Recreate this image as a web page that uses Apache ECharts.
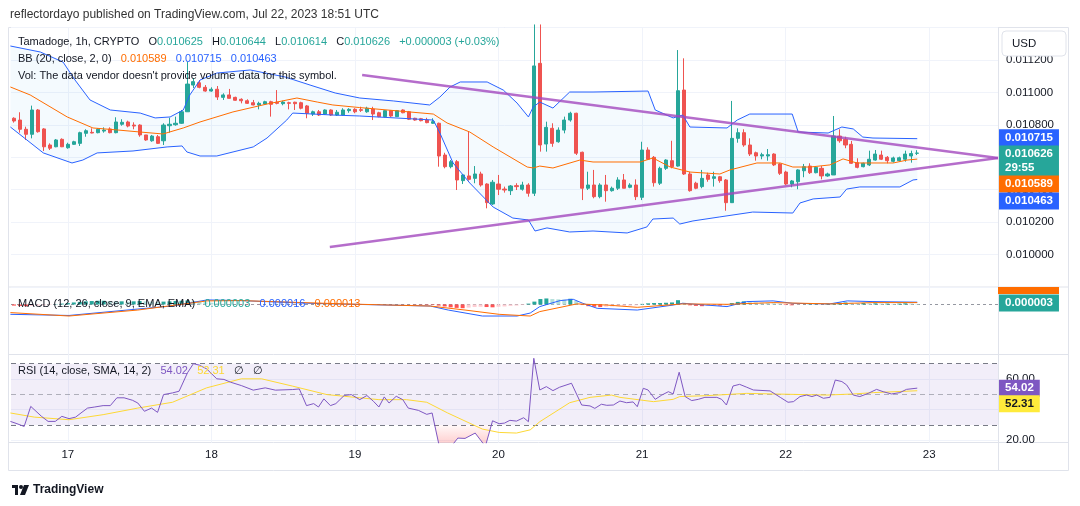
<!DOCTYPE html>
<html>
<head>
<meta charset="utf-8">
<title>Tamadoge, 1h</title>
<script src="https://cdn.jsdelivr.net/npm/echarts@6/dist/echarts.min.js"></script>
<style>
html, body { margin: 0; padding: 0; background: #fff; }
#chart { width: 1080px; height: 506px; }
</style>
</head>
<body>
<div id="chart"></div>
<script>
// hours are counted from Jul 17 00:00, one candle per hour
var FIRST_HOUR = -9;
var X_MIN = -9.5, X_MAX = 155.5;
var dayHours = [0, 24, 48, 72, 96, 120, 144];
var dayLabels = ['17', '18', '19', '20', '21', '22', '23'];

// [open, close, low, high]
var candles = [
  [0.010841, 0.010824, 0.010814, 0.010847], [0.010830, 0.010773, 0.010752, 0.010878], [0.010773, 0.010742, 0.010707, 0.010789], [0.010742, 0.010892, 0.010717, 0.010919],
  [0.010892, 0.010758, 0.010752, 0.010898], [0.010775, 0.010665, 0.010639, 0.010780], [0.010676, 0.010656, 0.010645, 0.010686], [0.010665, 0.010707, 0.010662, 0.010713],
  [0.010711, 0.010665, 0.010663, 0.010717], [0.010659, 0.010680, 0.010653, 0.010690], [0.010680, 0.010696, 0.010676, 0.010702], [0.010686, 0.010752, 0.010670, 0.010758],
  [0.010748, 0.010764, 0.010727, 0.010773], [0.010754, 0.010750, 0.010748, 0.010779], [0.010752, 0.010773, 0.010748, 0.010779], [0.010762, 0.010768, 0.010752, 0.010785],
  [0.010775, 0.010752, 0.010748, 0.010785], [0.010752, 0.010818, 0.010748, 0.010847], [0.010804, 0.010816, 0.010795, 0.010835], [0.010818, 0.010793, 0.010785, 0.010826],
  [0.010799, 0.010793, 0.010773, 0.010816], [0.010799, 0.010738, 0.010727, 0.010804], [0.010738, 0.010707, 0.010702, 0.010738], [0.010702, 0.010731, 0.010696, 0.010738],
  [0.010727, 0.010686, 0.010682, 0.010738], [0.010702, 0.010799, 0.010676, 0.010810], [0.010795, 0.010804, 0.010752, 0.010844], [0.010801, 0.010810, 0.010795, 0.010851],
  [0.010810, 0.010881, 0.010806, 0.010892], [0.010881, 0.011052, 0.010880, 0.011188], [0.011046, 0.011067, 0.011028, 0.011089], [0.011060, 0.011032, 0.011026, 0.011077],
  [0.011032, 0.011009, 0.011005, 0.011046], [0.011009, 0.011020, 0.011005, 0.011032], [0.011020, 0.010972, 0.010954, 0.011040], [0.010970, 0.010985, 0.010954, 0.010995],
  [0.010985, 0.010964, 0.010963, 0.011022], [0.010970, 0.010952, 0.010949, 0.010974], [0.010958, 0.010949, 0.010933, 0.010964], [0.010949, 0.010933, 0.010929, 0.010958],
  [0.010937, 0.010923, 0.010921, 0.010954], [0.010923, 0.010933, 0.010896, 0.010943], [0.010929, 0.010943, 0.010923, 0.010949], [0.010943, 0.010927, 0.010851, 0.010949],
  [0.010940, 0.010933, 0.010927, 0.011015], [0.010931, 0.010941, 0.010921, 0.010949], [0.010937, 0.010933, 0.010896, 0.010943], [0.010940, 0.010931, 0.010892, 0.010943],
  [0.010937, 0.010903, 0.010896, 0.010943], [0.010917, 0.010872, 0.010841, 0.010923], [0.010867, 0.010881, 0.010855, 0.010888], [0.010881, 0.010861, 0.010855, 0.010892],
  [0.010867, 0.010892, 0.010861, 0.010896], [0.010892, 0.010861, 0.010855, 0.010896], [0.010861, 0.010878, 0.010855, 0.010892], [0.010861, 0.010892, 0.010857, 0.010903],
  [0.010888, 0.010896, 0.010875, 0.010903], [0.010896, 0.010881, 0.010872, 0.010903], [0.010894, 0.010890, 0.010880, 0.010912], [0.010881, 0.010903, 0.010875, 0.010912],
  [0.010898, 0.010867, 0.010830, 0.010912], [0.010875, 0.010851, 0.010847, 0.010881], [0.010851, 0.010888, 0.010847, 0.010892], [0.010888, 0.010855, 0.010849, 0.010892],
  [0.010851, 0.010888, 0.010849, 0.010892], [0.010892, 0.010875, 0.010872, 0.010896], [0.010881, 0.010835, 0.010830, 0.010886], [0.010841, 0.010830, 0.010826, 0.010844],
  [0.010838, 0.010826, 0.010822, 0.010843], [0.010830, 0.010814, 0.010810, 0.010844], [0.010810, 0.010820, 0.010806, 0.010841], [0.010810, 0.010608, 0.010542, 0.010814],
  [0.010614, 0.010542, 0.010532, 0.010628], [0.010542, 0.010573, 0.010532, 0.010583], [0.010573, 0.010460, 0.010398, 0.010583], [0.010456, 0.010491, 0.010435, 0.010497],
  [0.010485, 0.010464, 0.010456, 0.010758], [0.010470, 0.010497, 0.010440, 0.010546], [0.010497, 0.010429, 0.010419, 0.010511], [0.010435, 0.010320, 0.010285, 0.010440],
  [0.010312, 0.010446, 0.010306, 0.010460], [0.010435, 0.010403, 0.010367, 0.010491], [0.010404, 0.010398, 0.010382, 0.010419], [0.010394, 0.010423, 0.010367, 0.010429],
  [0.010425, 0.010419, 0.010398, 0.010440], [0.010403, 0.010429, 0.010394, 0.010449], [0.010429, 0.010378, 0.010357, 0.010440], [0.010378, 0.011164, 0.010361, 0.011420],
  [0.011180, 0.010676, 0.010635, 0.011420], [0.010682, 0.010785, 0.010635, 0.010820], [0.010779, 0.010686, 0.010665, 0.010810], [0.010696, 0.010768, 0.010690, 0.010785],
  [0.010768, 0.010830, 0.010748, 0.010851], [0.010830, 0.010872, 0.010820, 0.010881], [0.010872, 0.010625, 0.010614, 0.010875], [0.010631, 0.010409, 0.010336, 0.010635],
  [0.010409, 0.010429, 0.010398, 0.010511], [0.010429, 0.010357, 0.010347, 0.010522], [0.010357, 0.010429, 0.010347, 0.010440], [0.010429, 0.010394, 0.010326, 0.010491],
  [0.010394, 0.010409, 0.010388, 0.010419], [0.010409, 0.010460, 0.010398, 0.010477], [0.010460, 0.010409, 0.010409, 0.010497], [0.010415, 0.010429, 0.010409, 0.010440],
  [0.010429, 0.010357, 0.010336, 0.010464], [0.010353, 0.010645, 0.010336, 0.010696], [0.010645, 0.010588, 0.010583, 0.010662], [0.010600, 0.010443, 0.010419, 0.010608],
  [0.010440, 0.010532, 0.010429, 0.010542], [0.010532, 0.010583, 0.010522, 0.010588], [0.010579, 0.010542, 0.010532, 0.010702], [0.010546, 0.011011, 0.010542, 0.011262],
  [0.011015, 0.010497, 0.010491, 0.011211], [0.010497, 0.010394, 0.010388, 0.010511], [0.010440, 0.010409, 0.010403, 0.010449], [0.010419, 0.010470, 0.010409, 0.010522],
  [0.010491, 0.010464, 0.010449, 0.010505], [0.010470, 0.010480, 0.010419, 0.010511], [0.010480, 0.010456, 0.010443, 0.010485], [0.010460, 0.010320, 0.010270, 0.010466],
  [0.010320, 0.010717, 0.010318, 0.010948], [0.010717, 0.010752, 0.010690, 0.010779], [0.010752, 0.010676, 0.010665, 0.010773], [0.010676, 0.010620, 0.010608, 0.010717],
  [0.010628, 0.010608, 0.010579, 0.010635], [0.010608, 0.010616, 0.010588, 0.010628], [0.010608, 0.010616, 0.010579, 0.010651], [0.010620, 0.010553, 0.010546, 0.010625],
  [0.010559, 0.010501, 0.010491, 0.010563], [0.010509, 0.010435, 0.010429, 0.010517], [0.010435, 0.010454, 0.010415, 0.010460], [0.010449, 0.010522, 0.010403, 0.010526],
  [0.010517, 0.010542, 0.010477, 0.010559], [0.010546, 0.010505, 0.010497, 0.010563], [0.010505, 0.010538, 0.010501, 0.010546], [0.010532, 0.010485, 0.010464, 0.010546],
  [0.010485, 0.010497, 0.010480, 0.010505], [0.010491, 0.010731, 0.010491, 0.010855], [0.010731, 0.010702, 0.010690, 0.010773], [0.010711, 0.010676, 0.010656, 0.010727],
  [0.010680, 0.010563, 0.010559, 0.010701], [0.010567, 0.010538, 0.010532, 0.010594], [0.010542, 0.010563, 0.010538, 0.010567], [0.010553, 0.010588, 0.010546, 0.010641],
  [0.010583, 0.010620, 0.010579, 0.010645], [0.010614, 0.010588, 0.010583, 0.010641], [0.010600, 0.010579, 0.010563, 0.010608], [0.010575, 0.010596, 0.010567, 0.010604],
  [0.010579, 0.010597, 0.010573, 0.010604], [0.010588, 0.010620, 0.010573, 0.010641], [0.010608, 0.010623, 0.010567, 0.010641], [0.010625, 0.010626, 0.010614, 0.010644]
];

// Bollinger Bands (20, close, 2): [hour, price]
var bbUpper = [
  [-9.6, 0.011287], [-4.6, 0.011250], [-0.8, 0.011188], [1.2, 0.011077], [3.7, 0.010954], [7.1, 0.010892], [12.1, 0.010873], [14.6, 0.010843],
  [17.1, 0.010849], [19.3, 0.010892], [20.4, 0.010985], [22.1, 0.011077], [24.9, 0.011120], [30.5, 0.011139], [36.3, 0.011096], [40.5, 0.011046],
  [44.7, 0.010997], [48.8, 0.010966], [54.4, 0.010948], [60.5, 0.010923], [62.2, 0.010972], [63.9, 0.011034], [65.6, 0.011065], [70.1, 0.011065],
  [72.8, 0.011015], [75.1, 0.010935], [77.0, 0.010849], [77.8, 0.010911], [78.9, 0.010941], [81.1, 0.010904], [83.9, 0.011003], [87.8, 0.011003],
  [97.0, 0.011009], [98.2, 0.010892], [101.2, 0.010843], [102.8, 0.010861], [104.0, 0.010787], [110.2, 0.010781], [111.9, 0.010830], [114.0, 0.010867],
  [121.1, 0.010867], [122.1, 0.010756], [127.1, 0.010750], [129.4, 0.010787], [131.3, 0.010775], [132.9, 0.010725], [134.6, 0.010719], [142, 0.010715]
];
var bbBasis = [
  [-9.6, 0.011034], [-6.3, 0.010985], [-0.1, 0.010849], [4.2, 0.010781], [8.2, 0.010769], [12.1, 0.010756], [15.9, 0.010744], [19.3, 0.010781],
  [22.1, 0.010818], [27.6, 0.010880], [33.3, 0.010929], [38.3, 0.010966], [41.7, 0.010941], [44.3, 0.010923], [48.8, 0.010907], [61.1, 0.010867],
  [63.4, 0.010812], [67.2, 0.010756], [71.1, 0.010664], [76.8, 0.010540], [77.8, 0.010534], [78.9, 0.010546], [81.1, 0.010534], [85.6, 0.010583],
  [87.8, 0.010571], [95.7, 0.010571], [97.8, 0.010596], [100.7, 0.010540], [104.0, 0.010509], [109.0, 0.010497], [110.7, 0.010522], [115.2, 0.010565],
  [119.1, 0.010565], [121.2, 0.010540], [124.1, 0.010540], [127.4, 0.010553], [129.6, 0.010590], [131.9, 0.010565], [138.0, 0.010565], [140.3, 0.010583],
  [142, 0.010589]
];
var bbLower = [
  [-9.6, 0.010787], [-4.1, 0.010627], [0.7, 0.010565], [2.5, 0.010583], [4.9, 0.010627], [10.9, 0.010639], [16.6, 0.010664], [19.1, 0.010670],
  [19.9, 0.010633], [22.1, 0.010608], [24.9, 0.010608], [31.0, 0.010664], [33.3, 0.010719], [36.6, 0.010830], [37.6, 0.010873], [41.0, 0.010867],
  [44.3, 0.010861], [48.8, 0.010855], [61.1, 0.010830], [62.2, 0.010750], [64.4, 0.010565], [67.2, 0.010441], [71.1, 0.010293], [74.4, 0.010225],
  [77.0, 0.010213], [78.1, 0.010145], [80.1, 0.010164], [83.9, 0.010139], [87.8, 0.010145], [93.5, 0.010133], [96.8, 0.010170], [97.8, 0.010219],
  [101.2, 0.010225], [102.3, 0.010188], [104.5, 0.010207], [109.0, 0.010232], [114.5, 0.010262], [121.2, 0.010256], [122.4, 0.010318], [124.6, 0.010343],
  [129.1, 0.010355], [130.2, 0.010404], [132.4, 0.010417], [139.1, 0.010417], [141.3, 0.010460], [142, 0.010463]
];

// drawn triangle
var trendUpper = [[49.2, 0.011108], [155.5, 0.010596]];
var trendLower = [[43.8, 0.010046], [155.5, 0.010596]];

// last values shown in the price scale
var lastClose = 0.010626, barCountdown = '29:55';
var bbBasisLast = 0.010589, bbUpperLast = 0.010715, bbLowerLast = 0.010463;

// MACD (12, 26, 9)
var macdHist = [
  -8e-6, -10e-6, -12e-6, -10e-6, -8e-6, -6e-6, -3e-6, 2e-6, 6e-6,
  10e-6, 14e-6, 18e-6, 22e-6, 24e-6, 26e-6, 26e-6, 24e-6, 22e-6,
  22e-6, 20e-6, 22e-6, 24e-6, 22e-6, 20e-6, 18e-6, 20e-6, 22e-6, 24e-6, 26e-6, 28e-6, 24e-6, 20e-6, 16e-6,
  12e-6, 8e-6, 4e-6, 2e-6, 0, -2e-6, -2e-6,
  -1e-6, -1e-6, 0, 1e-6, 1e-6, 0, 0, -1e-6, -1e-6, 0, 0, 1e-6, 1e-6, 0, 0, -1e-6,
  -1e-6, -1e-6, 0, 0, 0, 1e-6, 1e-6, 0, 0, -1e-6, -1e-6, -2e-6, -2e-6, -3e-6, -3e-6,
  -8e-6, -14e-6, -20e-6, -24e-6, -26e-6, -22e-6, -18e-6, -16e-6, -18e-6, -20e-6, -16e-6, -14e-6, -10e-6, -8e-6, -4e-6,
  6e-6, 20e-6, 38e-6, 42e-6, 38e-6, 36e-6, 34e-6, 40e-6, 24e-6,
  -4e-6, -12e-6, -16e-6, -18e-6, -16e-6, -14e-6, -12e-6, -10e-6, -8e-6, -6e-6,
  4e-6, 8e-6, 10e-6, 10e-6, 12e-6, 14e-6, 30e-6, 12e-6,
  -6e-6, -10e-6, -12e-6, -10e-6, -8e-6, -8e-6, -6e-6,
  10e-6, 18e-6, 22e-6, 16e-6, 14e-6, 12e-6, 10e-6, 8e-6, 6e-6,
  -4e-6, -6e-6, -2e-6, 0, 2e-6, 2e-6, 0,
  6e-6, 8e-6, 12e-6, 14e-6, 12e-6, 10e-6, 10e-6, 8e-6, 8e-6, 6e-6, 6e-6, 4e-6, 6e-6, 8e-6, 6e-6, 3e-6
];
var macdLine = [
  [-9.6, -69e-6], [0.2, -77e-6], [11.7, -32e-6], [17.4, -11e-6], [23.3, 32e-6], [29, 27e-6], [40.5, 8e-6], [60.6, -11e-6],
  [63.6, -39e-6], [69.3, -81e-6], [75.1, -81e-6], [77.3, -60e-6], [78.9, -15e-6], [82.3, 27e-6], [84.5, 36e-6], [86.1, 8e-6],
  [88.5, -27e-6], [95.2, -39e-6], [101.2, -4e-6], [102.8, 8e-6], [110.2, -15e-6], [113.5, 20e-6], [117.9, 25e-6], [121.2, 8e-6],
  [127.4, 4e-6], [130.3, 25e-6], [134.6, 20e-6], [142, 16e-6]
];
var macdSignal = [
  [-9.6, -57e-6], [0.2, -81e-6], [11.7, -39e-6], [23.3, 25e-6], [29, 27e-6], [46.2, 4e-6], [60.6, -11e-6], [66.4, -39e-6],
  [72.1, -69e-6], [77.3, -81e-6], [78.9, -50e-6], [85.1, 4e-6], [90.1, -4e-6], [95.2, -20e-6], [102.8, 4e-6], [110.2, 1e-6],
  [117.9, 13e-6], [127.4, 4e-6], [134.6, 13e-6], [142, 13e-6]
];
var macdLegend = ['0.000003', '0.000016', '0.000013'];

// RSI (14) and its SMA (14)
var rsiLine = [
  [-9.6, 32.3], [-8.5, 30.8], [-7.3, 29.0], [-6.2, 42.1], [-4.4, 35.6], [-3.3, 32.3], [-2.1, 32.3], [-1, 35.6], [0.2, 34.1], [1.3, 35.1],
  [2.2, 37.8], [3.3, 41.0], [4.5, 41.7], [5.9, 42.6], [7.1, 42.6], [8.2, 47.7], [9.4, 47.7], [10.8, 46.1], [11.7, 44.3], [12.8, 38.9],
  [14.0, 41.0], [15.0, 38.2], [16.0, 49.8], [17.5, 50.9], [18.6, 52.0], [20, 64], [21, 70], [22, 69], [23.2, 66.6], [24.9, 60.1],
  [26.1, 59.7], [27.2, 57.9], [29, 55.7], [31, 52.7], [33, 54.2], [34.7, 52.7], [37.6, 53.1], [38.7, 53.5], [39.9, 42.6], [41.1, 43.9],
  [41.9, 41.7], [42.8, 47.0], [43.9, 42.6], [44.8, 43.9], [46.2, 49.2], [47.4, 49.8], [48.8, 46.5], [50, 49.2], [51.1, 45.4], [52, 41.7],
  [52.9, 48.3], [53.7, 44.3], [54.9, 48.7], [56, 46.5], [56.9, 41.0], [58.6, 39.5], [60, 36.9], [60.9, 37.8], [62.1, 16], [64.1, 16],
  [65.2, 21.4], [66.4, 21.2], [68.1, 24.7], [69.8, 16], [71, 32.7], [72.1, 30.8], [73, 31.2], [73.9, 33.0], [75, 32.5], [76.2, 34.7],
  [77, 32.1], [77.9, 73.5], [78.9, 52.8], [80, 55.0], [81.1, 52.4], [82.2, 54.6], [84.2, 57.2], [85.9, 43.0], [87.3, 42.4], [88.1, 40.8],
  [89.2, 43.5], [90.1, 42.8], [91.2, 43.0], [92.3, 45.6], [93.4, 44.5], [94.5, 45.0], [95.2, 41.9], [96.2, 53.9], [97, 52.8], [98.2, 46.7],
  [99.3, 49.5], [100.4, 51.7], [101.2, 50.2], [102.2, 64.4], [103.2, 48.5], [104.3, 45.9], [105.4, 46.7], [106.5, 48.0], [108.5, 48.0], [109.3, 46.7],
  [110.1, 43.0], [111.2, 55.4], [112.3, 56.5], [113.5, 54.6], [114.6, 52.8], [117.4, 52.2], [119.1, 48.0], [120.4, 44.8], [121.3, 45.2], [122.4, 48.5],
  [123.5, 49.5], [124.4, 48.5], [125.2, 49.5], [126.3, 47.4], [127.4, 48.0], [128.3, 59.3], [129.4, 58.3], [130.2, 56.1], [131.3, 49.5], [132.4, 48.5],
  [133.8, 50.6], [135.2, 53.2], [136.3, 51.7], [137.7, 50.2], [139.1, 51.1], [140.2, 53.2], [142, 54.02]
];
var rsiOversold = [[61.3, 30], [62.1, 16], [64.1, 16], [65.2, 21.4], [66.4, 21.2], [68.1, 24.7], [69.8, 16], [70.8, 30]];
var rsiMa = [
  [-9.6, 37.8], [-5.6, 35.1], [0.2, 33.4], [5.9, 36.7], [11.7, 41.0], [17.5, 44.8], [23.2, 54.2], [29, 60.1], [32.4, 60.1], [37.6, 55.3],
  [43.3, 49.8], [52, 46.5], [56.6, 46.5], [60, 44.8], [63.5, 37.8], [69.3, 27.3], [72.1, 25.1], [75, 24.7], [77.3, 26.8], [78.9, 32.1],
  [83.9, 44.5], [87.3, 48.0], [90.9, 49.5], [92.3, 48.0], [97.9, 45.2], [101.2, 46.7], [102.3, 48.5], [106.8, 49.1], [113.5, 50.6], [117.9, 50.2],
  [126.9, 49.5], [131.3, 50.2], [134.7, 51.1], [142, 52.31]
];
var rsiLevels = [70, 50, 30];
var rsiGrid = [60, 40, 20];

var FONT = "'Liberation Sans', Arial, sans-serif";
var TEXT = '#131722';
var UP = '#26A69A', DOWN = '#EF5350';
var GRID_LINE = '#F0F3FA', BORDER = '#E0E3EB';

var candleData = candles.map(function (c, i) { return [FIRST_HOUR + i, c[0], c[1], c[2], c[3]]; });
var histData = macdHist.map(function (v, i) { return [FIRST_HOUR + i, v]; });

function dayLines(withLabels) {
  return dayHours.map(function (h, i) {
    return {
      xAxis: h,
      lineStyle: { color: GRID_LINE, width: 1, type: 'solid' },
      label: { show: withLabels, position: 'start', distance: 6, formatter: dayLabels[i], color: TEXT, fontSize: 11.5, fontFamily: FONT }
    };
  });
}

function lineSeries(data, color, axis, width, z) {
  return {
    type: 'line', xAxisIndex: axis, yAxisIndex: axis, data: data,
    symbol: 'none', showSymbol: false, silent: true, z: z,
    lineStyle: { color: color, width: width }
  };
}

function tag(value, text, bg, dy, fg) {
  return {
    yAxis: value,
    label: { formatter: text, backgroundColor: bg, offset: [0, dy], color: fg || '#ffffff' }
  };
}

var tagLabel = {
  show: true, position: 'end', distance: 1, fontSize: 11.5, fontWeight: 'bold', fontFamily: FONT,
  padding: [2, 6, 1, 6], lineHeight: 14
};

function tagLine(items) {
  return {
    silent: true, symbol: ['none', 'none'], z: 10, animation: false, precision: 10,
    lineStyle: { color: 'rgba(0,0,0,0)', width: 1 }, label: tagLabel, data: items
  };
}

var chart = echarts.init(document.getElementById('chart'));

// price scale tags ride on the basis line
var basisSeries = lineSeries(bbBasis, '#FF6D00', 0, 1, 4);
basisSeries.markLine = tagLine([
  tag(bbUpperLast, bbUpperLast.toFixed(6), '#2962FF', -1),
  tag(lastClose, lastClose.toFixed(6) + '\n' + barCountdown, UP, 8),
  tag(bbBasisLast, bbBasisLast.toFixed(6), '#FF6D00', 25),
  tag(bbLowerLast, bbLowerLast.toFixed(6), '#2962FF', 21.5)
]);

var macdSeries = lineSeries(macdLine, '#2962FF', 1, 1, 3);
macdSeries.markLine = tagLine([tag(3e-6, macdLegend[0], UP, -1)]);

var rsiMaSeries = lineSeries(rsiMa, '#FDD835', 2, 1, 3);
rsiMaSeries.markLine = {
  silent: true, symbol: ['none', 'none'], z: 2, animation: false, label: { show: false },
  data: rsiLevels.map(function (v) {
    return { yAxis: v, lineStyle: { color: v === 50 ? 'rgba(120,123,134,0.55)' : '#787B86', width: 1, type: [5, 4] } };
  })
};

var rsiSeries = lineSeries(rsiLine, '#7E57C2', 2, 1, 4);
rsiSeries.markLine = tagLine([tag(54.02, '54.02', '#7E57C2', 0), tag(52.31, '52.31', '#FFEB3B', 13, TEXT)]);

var option = {
  animation: false,
  backgroundColor: '#ffffff',
  textStyle: { fontFamily: FONT },
  grid: [
    { left: 11, right: 82, top: 27.7, height: 259.2, show: false },
    { left: 11, right: 82, top: 286.9, height: 67.4, show: false },
    { left: 11, right: 82, top: 354.3, height: 88.4, show: false }
  ],
  xAxis: [0, 1, 2].map(function (g) {
    return { type: 'value', gridIndex: g, min: X_MIN, max: X_MAX, show: false };
  }),
  yAxis: [
    {
      gridIndex: 0, type: 'value', position: 'right', min: 0.0098, max: 0.0114, interval: 0.0002,
      axisLine: { show: false }, axisTick: { show: false },
      axisLabel: {
        margin: 8, color: TEXT, fontSize: 11.5, fontFamily: FONT, showMinLabel: false, showMaxLabel: false,
        formatter: function (v) { return v.toFixed(6); }
      },
      splitLine: { lineStyle: { color: GRID_LINE, width: 1 } }
    },
    { gridIndex: 1, type: 'value', min: -0.000349, max: 0.000123, show: false },
    { gridIndex: 2, type: 'value', min: 18.4, max: 76.1, show: false }
  ],
  series: [
    {
      type: 'custom', name: 'BB fill', xAxisIndex: 0, yAxisIndex: 0, z: 1, silent: true,
      data: [[0, 0.0105]],
      renderItem: function (params, api) {
        var pts = bbUpper.map(function (d) { return api.coord(d); });
        for (var i = bbLower.length - 1; i >= 0; i--) pts.push(api.coord(bbLower[i]));
        return { type: 'polygon', shape: { points: pts }, style: { fill: 'rgba(33,150,243,0.05)' } };
      },
      markLine: { silent: true, symbol: ['none', 'none'], z: 0, animation: false, data: dayLines(false) }
    },
    {
      type: 'candlestick', name: 'Tamadoge', xAxisIndex: 0, yAxisIndex: 0, z: 3, barWidth: 3.6, clip: true,
      data: candleData,
      itemStyle: { color: UP, color0: DOWN, borderColor: UP, borderColor0: DOWN, borderWidth: 1 }
    },
    lineSeries(bbUpper, '#2962FF', 0, 1, 4),
    lineSeries(bbLower, '#2962FF', 0, 1, 4),
    basisSeries,
    lineSeries(trendUpper, 'rgba(163,73,190,0.8)', 0, 2.5, 5),
    lineSeries(trendLower, 'rgba(163,73,190,0.8)', 0, 2.5, 5),

    {
      type: 'bar', name: 'Histogram', xAxisIndex: 1, yAxisIndex: 1, barWidth: 4, z: 2, silent: true,
      data: histData,
      itemStyle: {
        color: function (p) {
          var v = macdHist[p.dataIndex];
          var prev = p.dataIndex > 0 ? macdHist[p.dataIndex - 1] : v;
          if (v >= 0) return v >= prev ? '#26A69A' : '#B2DFDB';
          return v <= prev ? '#FF5252' : '#FFCDD2';
        }
      },
      markLine: {
        silent: true, symbol: ['none', 'none'], z: 1, animation: false,
        data: [{ yAxis: 0, lineStyle: { color: '#9598A1', width: 1, type: [3, 3] }, label: { show: false } }].concat(dayLines(false))
      }
    },
    macdSeries,
    lineSeries(macdSignal, '#FF6D00', 1, 1, 3),

    {
      type: 'line', name: 'Oversold', xAxisIndex: 2, yAxisIndex: 2, data: rsiOversold, z: 2,
      symbol: 'none', silent: true, lineStyle: { width: 0 },
      areaStyle: {
        origin: 30,
        color: new echarts.graphic.LinearGradient(0, 0, 0, 1, [
          { offset: 0, color: 'rgba(255,82,82,0.05)' },
          { offset: 1, color: 'rgba(255,82,82,0.45)' }
        ])
      },
      markArea: { silent: true, z: 1, itemStyle: { color: 'rgba(126,87,194,0.1)' }, data: [[{ yAxis: 30 }, { yAxis: 70 }]] },
      markLine: {
        silent: true, symbol: ['none', 'none'], z: 0, animation: false,
        label: { show: true, position: 'end', distance: 8, color: TEXT, fontSize: 11.5, fontFamily: FONT },
        data: rsiGrid.map(function (v) {
          return { yAxis: v, lineStyle: { color: GRID_LINE, width: 1, type: 'solid' },
                   label: { show: v !== 40, formatter: v.toFixed(2) } };
        }).concat(dayLines(true))
      }
    },
    rsiMaSeries,
    rsiSeries
  ],
  graphic: [
    { type: 'rect', z: -10, silent: true, shape: { x: 8.5, y: 27.5, width: 1060, height: 443 }, style: { fill: 'none', stroke: BORDER, lineWidth: 1 } },
    { type: 'line', z: -10, silent: true, shape: { x1: 8.5, y1: 287, x2: 1068.5, y2: 287 }, style: { stroke: BORDER, lineWidth: 1 } },
    { type: 'line', z: -10, silent: true, shape: { x1: 8.5, y1: 354.5, x2: 1068.5, y2: 354.5 }, style: { stroke: BORDER, lineWidth: 1 } },
    { type: 'line', z: -10, silent: true, shape: { x1: 8.5, y1: 442.5, x2: 1068.5, y2: 442.5 }, style: { stroke: BORDER, lineWidth: 1 } },
    { type: 'line', z: -10, silent: true, shape: { x1: 998.5, y1: 27.5, x2: 998.5, y2: 470.5 }, style: { stroke: BORDER, lineWidth: 1 } },
    { type: 'rect', z: 20, silent: true, shape: { x: 998, y: 287, width: 61, height: 7 }, style: { fill: '#FF6D00' } },

    { type: 'rect', z: 100, silent: true, shape: { x: 1002, y: 31, width: 64, height: 25, r: 4 }, style: { fill: '#ffffff', stroke: BORDER, lineWidth: 1 } },
    { type: 'text', z: 101, silent: true, x: 1012, y: 43.5, style: { text: 'USD', fill: TEXT, font: '11.5px ' + FONT, verticalAlign: 'middle' } },

    { type: 'text', z: 50, silent: true, x: 10, y: 15,
      style: { text: 'reflectordayo published on TradingView.com, Jul 22, 2023 18:51 UTC', fill: '#333333', font: '12px ' + FONT, verticalAlign: 'middle' } },
    { type: 'text', z: 50, silent: true, x: 18, y: 42,
      style: {
        text: 'Tamadoge, 1h, CRYPTO   O{g|0.010625}   H{g|0.010644}   L{g|0.010614}   C{g|0.010626}   {g|+0.000003 (+0.03%)}',
        fill: TEXT, font: '11px ' + FONT, verticalAlign: 'middle',
        rich: { g: { fill: UP, font: '11px ' + FONT } }
      } },
    { type: 'text', z: 50, silent: true, x: 18, y: 59,
      style: {
        text: 'BB (20, close, 2, 0)   {o|' + bbBasisLast.toFixed(6) + '}   {b|' + bbUpperLast.toFixed(6) + '}   {b|' + bbLowerLast.toFixed(6) + '}',
        fill: TEXT, font: '11px ' + FONT, verticalAlign: 'middle',
        rich: { o: { fill: '#FF6D00', font: '11px ' + FONT }, b: { fill: '#2962FF', font: '11px ' + FONT } }
      } },
    { type: 'text', z: 50, silent: true, x: 18, y: 76,
      style: { text: "Vol: The data vendor doesn't provide volume data for this symbol.", fill: TEXT, font: '11px ' + FONT, verticalAlign: 'middle' } },
    { type: 'text', z: 50, silent: true, x: 18, y: 304,
      style: {
        text: 'MACD (12, 26, close, 9, EMA, EMA)   {g|' + macdLegend[0] + '}   {b|' + macdLegend[1] + '}   {o|' + macdLegend[2] + '}',
        fill: TEXT, font: '11px ' + FONT, verticalAlign: 'middle',
        rich: { g: { fill: UP, font: '11px ' + FONT }, b: { fill: '#2962FF', font: '11px ' + FONT }, o: { fill: '#FF6D00', font: '11px ' + FONT } }
      } },
    { type: 'text', z: 50, silent: true, x: 18, y: 371,
      style: {
        text: 'RSI (14, close, SMA, 14, 2)   {p|54.02}   {y|52.31}   {n|\u2205}   {n|\u2205}',
        fill: TEXT, font: '11px ' + FONT, verticalAlign: 'middle',
        rich: { p: { fill: '#7E57C2', font: '11px ' + FONT }, y: { fill: '#FDD835', font: '11px ' + FONT }, n: { fill: TEXT, font: '11px ' + FONT } }
      } },

    { type: 'group', x: 12, y: 485, silent: true, children: [
      { type: 'polygon', shape: { points: [[0, 0], [6, 0], [6, 10], [3, 10], [3, 3], [0, 3]] }, style: { fill: TEXT } },
      { type: 'circle', shape: { cx: 9, cy: 2, r: 2 }, style: { fill: TEXT } },
      { type: 'polygon', shape: { points: [[12, 0], [17, 0], [13, 10], [8, 10]] }, style: { fill: TEXT } }
    ] },
    { type: 'text', z: 50, silent: true, x: 33, y: 490,
      style: { text: 'TradingView', fill: TEXT, font: 'bold 12px ' + FONT, verticalAlign: 'middle' } }
  ]
};

chart.setOption(option);
</script>
</body>
</html>
